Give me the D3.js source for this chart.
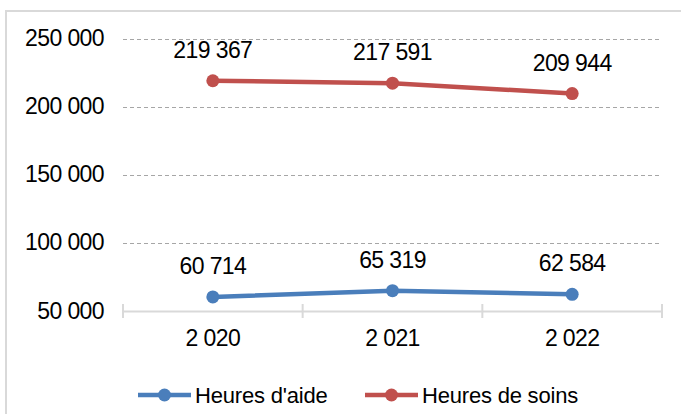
<!DOCTYPE html>
<html>
<head>
<meta charset="utf-8">
<script src="https://cdn.jsdelivr.net/npm/d3@7"></script>
<style>
  body { margin: 0; background: #fff; }
  text { font-family: "Liberation Sans", Arial, sans-serif; fill: #000; }
  text.num { font-size: 23px; letter-spacing: -0.6px; }
</style>
</head>
<body>
<div id="chart"></div>
<script>
// values
const years = [2020, 2021, 2022];
const heuresAide = [60714, 65319, 62584];
const heuresSoins = [219367, 217591, 209944];
const yTicks = [50000, 100000, 150000, 200000, 250000];
const seriesNames = ["Heures d'aide", "Heures de soins"];
const seriesColors = ["#4A7EBB", "#C0504D"];

const width = 681, height = 414;
const fr = d3.formatLocale({decimal: ",", thousands: " ", grouping: [3], currency: ["", " €"]});
const fmt = fr.format(",d");

const svg = d3.select("#chart").append("svg")
  .attr("width", width)
  .attr("height", height);

// chart border
svg.append("rect")
  .attr("x", 6).attr("y", 11)
  .attr("width", 700).attr("height", 430)
  .attr("fill", "none")
  .attr("stroke", "#d9d9d9")
  .attr("stroke-width", 2);

const x = d3.scaleBand().domain(years).range([123, 662]);
const y = d3.scaleLinear().domain([50000, 250000]).range([311.5, 39]);

// gridlines
svg.selectAll("line.grid")
  .data(yTicks.slice(1)).enter().append("line")
    .attr("class", "grid")
    .attr("x1", 123).attr("x2", 662)
    .attr("y1", d => Math.round(y(d)) + 0.5)
    .attr("y2", d => Math.round(y(d)) + 0.5)
    .attr("stroke", "#a6a6a6")
    .attr("stroke-dasharray", "4,3");

// y labels
svg.selectAll("text.ylab")
  .data(yTicks).enter().append("text")
    .attr("class", "ylab num")
    .attr("x", 104)
    .attr("y", d => y(d) + 7)
    .attr("text-anchor", "end")
    .text(d => fmt(d));

// x axis line and ticks
svg.append("line")
  .attr("x1", 123).attr("x2", 662)
  .attr("y1", y(50000)).attr("y2", y(50000))
  .attr("stroke", "#d9d9d9").attr("stroke-width", 2);

const bounds = years.map(d => x(d)).concat([x.range()[1]]);
svg.selectAll("line.tick")
  .data(bounds).enter().append("line")
    .attr("class", "tick")
    .attr("x1", d => d).attr("x2", d => d)
    .attr("y1", 304).attr("y2", 318)
    .attr("stroke", "#d9d9d9").attr("stroke-width", 2);

svg.selectAll("text.xlab")
  .data(years).enter().append("text")
    .attr("class", "xlab num")
    .attr("x", d => x(d) + x.bandwidth() / 2)
    .attr("y", 346)
    .attr("text-anchor", "middle")
    .text(d => fmt(d));

// series
const line = d3.line()
  .x((d, i) => x(years[i]) + x.bandwidth() / 2)
  .y(d => y(d));

[heuresAide, heuresSoins].forEach((vals, s) => {
  const g = svg.append("g");
  g.append("path")
    .datum(vals)
    .attr("d", line)
    .attr("fill", "none")
    .attr("stroke", seriesColors[s])
    .attr("stroke-width", 4.5)
    .attr("stroke-linejoin", "round");
  g.selectAll("circle")
    .data(vals).enter().append("circle")
      .attr("cx", (d, i) => x(years[i]) + x.bandwidth() / 2)
      .attr("cy", d => y(d))
      .attr("r", 6.5)
      .attr("fill", seriesColors[s]);
  g.selectAll("text")
    .data(vals).enter().append("text")
      .attr("class", "num")
      .attr("x", (d, i) => x(years[i]) + x.bandwidth() / 2)
      .attr("y", d => y(d) - 23)
      .attr("text-anchor", "middle")
      .text(d => fmt(d));
});

// legend
const legendX = [138, 365];
seriesNames.forEach((name, s) => {
  const lg = svg.append("g").attr("transform", `translate(${legendX[s]},395)`);
  lg.append("line")
    .attr("x1", 0).attr("x2", 53)
    .attr("stroke", seriesColors[s]).attr("stroke-width", 4.5);
  lg.append("circle")
    .attr("cx", 26.5).attr("r", 6.5)
    .attr("fill", seriesColors[s]);
  lg.append("text")
    .attr("x", 57).attr("y", 8)
    .style("font-size", "22px")
    .style("letter-spacing", "-0.2px")
    .text(name);
});
</script>
</body>
</html>
